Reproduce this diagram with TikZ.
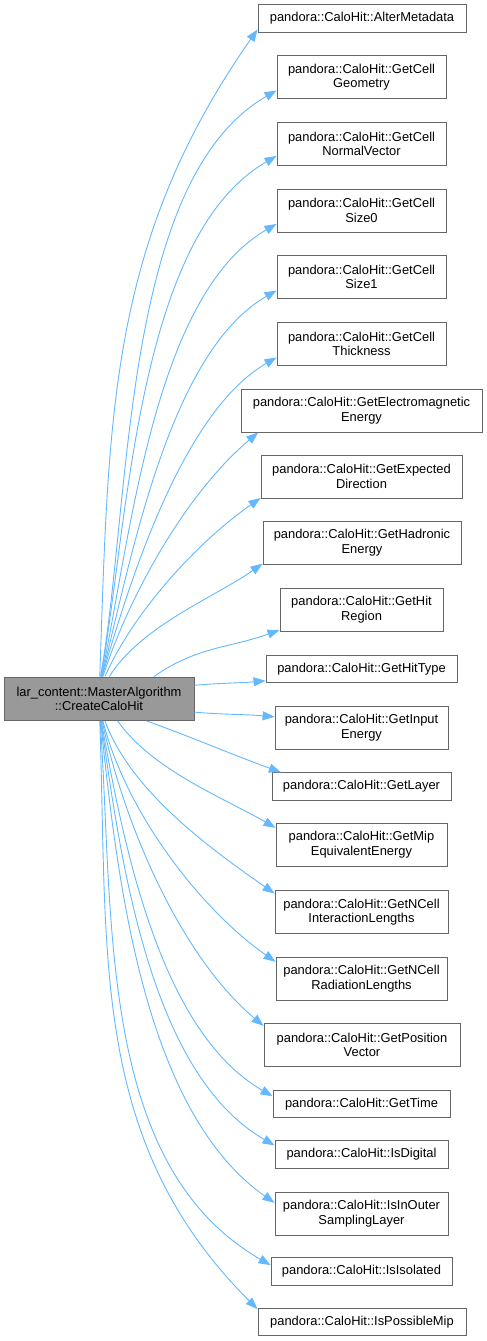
\documentclass[tikz,border=0pt]{standalone}
\usepackage{fontspec}
\usetikzlibrary{arrows.meta}
\newfontfamily\graphfont{Liberation Sans}
\definecolor{edgeblue}{HTML}{63B8FF}
\definecolor{boxline}{HTML}{666666}
\definecolor{callerfill}{HTML}{999999}
\newcommand{\boxfont}{\graphfont\fontsize{12.9}{14.5}\selectfont}
\tikzset{
  callee/.style={rectangle,draw=boxline,line width=0.9pt,fill=white,align=center,inner sep=2pt,font=\boxfont},
  caller/.style={callee,fill=callerfill},
  oneline/.style={minimum height=27.5pt},
  twoline/.style={minimum height=43pt},
  call/.style={-{Triangle[length=12pt,width=9pt]},edgeblue,line width=0.9pt}
}
\begin{document}
\begin{tikzpicture}[x=1pt,y=1pt]
        \useasboundingbox (0,0) rectangle (487,-1341);
        \node[caller,minimum width=190pt,minimum height=43.5pt] (create) at (99,-698.7) {lar\_content::MasterAlgorithm\\::CreateCaloHit};
        \node[callee,oneline,minimum width=208pt] (alter) at (362,-18.5) {pandora::CaloHit::AlterMetadata};
        \node[callee,twoline,minimum width=169pt] (geom) at (361.5,-77) {pandora::CaloHit::GetCell\\Geometry};
        \node[callee,twoline,minimum width=169pt] (normal) at (361.5,-144) {pandora::CaloHit::GetCell\\NormalVector};
        \node[callee,twoline,minimum width=169pt] (sizezero) at (361.5,-210.5) {pandora::CaloHit::GetCell\\Size0};
        \node[callee,twoline,minimum width=169pt] (sizeone) at (361.5,-277) {pandora::CaloHit::GetCell\\Size1};
        \node[callee,twoline,minimum width=169pt] (thick) at (361.5,-344) {pandora::CaloHit::GetCell\\Thickness};
        \node[callee,twoline,minimum width=241pt] (emenergy) at (361.5,-410.5) {pandora::CaloHit::GetElectromagnetic\\Energy};
        \node[callee,twoline,minimum width=201pt] (expdir) at (361.5,-476.5) {pandora::CaloHit::GetExpected\\Direction};
        \node[callee,twoline,minimum width=198pt] (hadenergy) at (362,-542.5) {pandora::CaloHit::GetHadronic\\Energy};
        \node[callee,twoline,minimum width=163pt] (region) at (361.5,-609.5) {pandora::CaloHit::GetHit\\Region};
        \node[callee,oneline,minimum width=191pt] (hittype) at (361.5,-669) {pandora::CaloHit::GetHitType};
        \node[callee,twoline,minimum width=173pt] (input) at (361.5,-727.5) {pandora::CaloHit::GetInput\\Energy};
        \node[callee,oneline,minimum width=179pt] (layer) at (361.5,-786.5) {pandora::CaloHit::GetLayer};
        \node[callee,twoline,minimum width=171pt] (mip) at (361.5,-844.5) {pandora::CaloHit::GetMip\\EquivalentEnergy};
        \node[callee,twoline,minimum width=173pt] (intlen) at (361.5,-912) {pandora::CaloHit::GetNCell\\InteractionLengths};
        \node[callee,twoline,minimum width=171pt] (radlen) at (361.5,-978.5) {pandora::CaloHit::GetNCell\\RadiationLengths};
        \node[callee,twoline,minimum width=196pt] (posvec) at (362,-1045) {pandora::CaloHit::GetPosition\\Vector};
        \node[callee,oneline,minimum width=177pt] (time) at (361.5,-1104) {pandora::CaloHit::GetTime};
        \node[callee,oneline,minimum width=173pt] (digital) at (361.5,-1154.5) {pandora::CaloHit::IsDigital};
        \node[callee,twoline,minimum width=173pt] (outer) at (361.5,-1213.5) {pandora::CaloHit::IsInOuter\\SamplingLayer};
        \node[callee,oneline,minimum width=181pt] (isolated) at (361.5,-1271.5) {pandora::CaloHit::IsIsolated};
        \node[callee,oneline,minimum width=208pt] (possmip) at (362,-1322) {pandora::CaloHit::IsPossibleMip};
        % calls going up
        \draw[call] (create.88) to[out=88,in=-125] (alter.186);
        \draw[call] (create.86) to[out=80,in=-150,looseness=0.75] (geom.189);
        \draw[call] (create.85) to[out=80,in=-150,looseness=0.75] (normal.188);
        \draw[call] (create.84) to[out=78,in=-150,looseness=0.75] (sizezero.189);
        \draw[call] (create.83) to[out=76,in=-150,looseness=0.75] (sizeone.189);
        \draw[call] (create.82) to[out=74,in=-150,looseness=0.75] (thick.189);
        \draw[call] (create.80) to[out=72,in=-140,looseness=0.8] (emenergy.192);
        \draw[call] (create.75) to[out=66,in=-145,looseness=0.8] (expdir.192);
        \draw[call] (create.65) to[out=58,in=-145,looseness=0.8] (hadenergy.192);
        \draw[call] (create.22) to[out=35,in=-160] (region.194);
        % calls to the side
        \draw[call] (create.8) to[out=5,in=-175] (hittype.187);
        \draw[call] (create.-8) to[out=-5,in=175] (input.173);
        \draw[call] (create.-25) to[out=-20,in=160] (layer.170);
        \draw[call] (create.-50) to[out=-55,in=150,looseness=0.8] (mip.169);
        % calls going down
        \draw[call] (create.-75) to[out=-70,in=145,looseness=0.8] (intlen.168);
        \draw[call] (create.-80) to[out=-76,in=145,looseness=0.8] (radlen.169);
        \draw[call] (create.-82) to[out=-78,in=140,looseness=0.8] (posvec.169);
        \draw[call] (create.-84) to[out=-80,in=150,looseness=0.8] (time.175);
        \draw[call] (create.-85) to[out=-82,in=150,looseness=0.8] (digital.174);
        \draw[call] (create.-86) to[out=-84,in=145,looseness=0.8] (outer.173);
        \draw[call] (create.-87) to[out=-86,in=150,looseness=0.9] (isolated.176);
        \draw[call] (create.-88) to[out=-88,in=135] (possmip.173);
      \end{tikzpicture}
\end{document}
